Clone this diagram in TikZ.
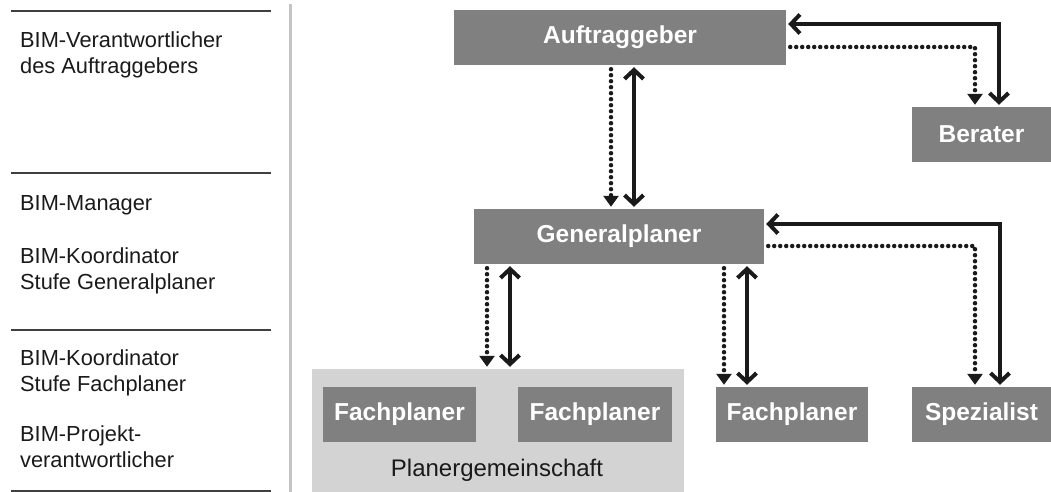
\documentclass[tikz,border=0pt]{standalone}
\usepackage{fontspec}
\setmainfont{Liberation Sans}
\usetikzlibrary{arrows.meta}

\definecolor{boxgray}{HTML}{808080}
\definecolor{lightbox}{HTML}{D3D3D3}
\definecolor{rulegray}{HTML}{404040}
\definecolor{sepgray}{HTML}{C4C4C4}
\definecolor{inkblack}{HTML}{1A1A1A}

\begin{document}
\begin{tikzpicture}[x=1pt, y=-1pt,
    box/.style={rectangle, fill=boxgray, text=white, inner sep=0pt, minimum height=55pt, font=\fontsize{24.5}{28}\selectfont\bfseries},
    role/.style={anchor=base west, align=left, inner sep=0pt, text=inkblack, font=\fontsize{21.8}{25.5}\selectfont},
    both/.style={{Straight Barb[length=9pt,width=19pt]}-{Straight Barb[length=9pt,width=19pt]}, line width=4pt, draw=inkblack, shorten >=2pt, shorten <=2pt},
    down/.style={-{Triangle[length=11pt,width=15pt]}, line width=4.5pt, draw=inkblack, line cap=round, line join=round, dash pattern=on 0pt off 6pt, shorten >=2pt, shorten <=4pt},
    rule/.style={line width=2.5pt, draw=rulegray}
  ]
  \useasboundingbox (0,0) rectangle (1051,492);

  % --- Left column: roles ---
  \foreach \y in {11,173,330,491}
    \draw[rule] (11,\y) -- (271,\y);
  \draw[line width=3pt, sepgray] (290,4) -- (290,492);

  \node[role] (rAG) at (20,73.5) {BIM-Verantwortlicher\\des Auftraggebers};
  \node[role] (rBM) at (20,210) {BIM-Manager};
  \node[role] (rKG) at (20,289) {BIM-Koordinator\\Stufe Generalplaner};
  \node[role] (rKF) at (20,391) {BIM-Koordinator\\Stufe Fachplaner};
  \node[role] (rPV) at (20,467) {BIM-Projekt-\\verantwortlicher};

  % --- Nodes Placement ---
  \node[box, minimum width=332pt] (Auf) at (620,37.5) {Auftraggeber};
  \node[box, minimum width=139pt] (Ber) at (981.5,134.5) {Berater};
  \node[box, minimum width=290pt] (Gen) at (619,236.5) {Generalplaner};

  \node[rectangle, fill=lightbox, minimum width=372pt, minimum height=123pt, inner sep=0pt] (PG) at (498,430.5) {};
  \node[font=\fontsize{24}{28}\selectfont, text=inkblack, inner sep=0pt] (PGlabel) at (497,470) {Planergemeinschaft};
  \node[box, minimum width=153pt] (FP1) at (399.5,414.5) {Fachplaner};
  \node[box, minimum width=154pt] (FP2) at (595,414.5) {Fachplaner};
  \node[box, minimum width=152pt] (FP3) at (792,414.5) {Fachplaner};
  \node[box, minimum width=139pt] (Spe) at (981.5,414.5) {Spezialist};

  % --- Vertical Connections ---
  \draw[down] ([xshift=-9pt]Auf.south) -- ([xshift=-8pt]Gen.north);
  \draw[both] ([xshift=14pt]Auf.south) -- ([xshift=15pt]Gen.north);

  \draw[down] ([xshift=-132pt]Gen.south) -- ([xshift=-11pt]PG.north);
  \draw[both] ([xshift=-109pt]Gen.south) -- ([xshift=12pt]PG.north);

  \draw[down] ([xshift=105pt]Gen.south) -- ([xshift=-68pt]FP3.north);
  \draw[both] ([xshift=128pt]Gen.south) -- ([xshift=-45pt]FP3.north);

  % --- Elbow Connections ---
  \draw[both] ([yshift=13.5pt]Auf.east) -| ([xshift=17.5pt]Ber.north);
  \draw[down] ([yshift=-9.5pt]Auf.east) -| ([xshift=-6.5pt]Ber.north);

  \draw[both] ([yshift=12.5pt]Gen.east) -| ([xshift=18.5pt]Spe.north);
  \draw[down] ([yshift=-9.5pt]Gen.east) -| ([xshift=-6.5pt]Spe.north);
\end{tikzpicture}
\end{document}
